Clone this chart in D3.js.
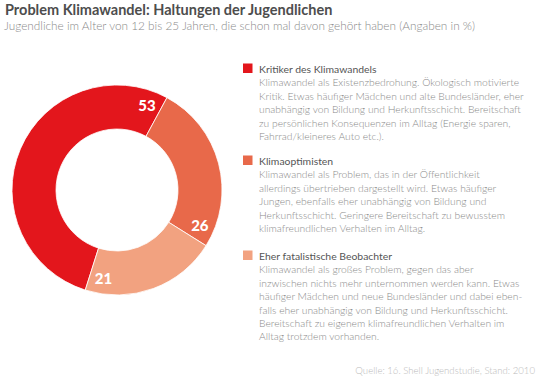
<!DOCTYPE html>
<html><head><meta charset="utf-8">
<script src="https://cdn.jsdelivr.net/npm/d3@7"></script>
<style>body{margin:0;background:#fff}svg{display:block}</style>
</head><body>
<script>
const categories = ["Kritiker des Klimawandels", "Klimaoptimisten", "Eher fatalistische Beobachter"];
const values = [53, 26, 21];
const colors = ["#e3161c", "#e8694a", "#f2a280"];
const descriptions = [
  ["Klimawandel als Existenzbedrohung. Ökologisch motivierte",
   "Kritik. Etwas häufiger Mädchen und alte Bundesländer, eher",
   "unabhängig von Bildung und Herkunftsschicht. Bereitschaft",
   "zu persönlichen Konsequenzen im Alltag (Energie sparen,",
   "Fahrrad/kleineres Auto etc.)."],
  ["Klimawandel als Problem, das in der Öffentlichkeit",
   "allerdings übertrieben dargestellt wird. Etwas häufiger",
   "Jungen, ebenfalls eher unabhängig von Bildung und",
   "Herkunftsschicht. Geringere Bereitschaft zu bewusstem",
   "klimafreundlichen Verhalten im Alltag."],
  ["Klimawandel als großes Problem, gegen das aber",
   "inzwischen nichts mehr unternommen werden kann. Etwas",
   "häufiger Mädchen und neue Bundesländer und dabei eben-",
   "falls eher unabhängig von Bildung und Herkunftsschicht.",
   "Bereitschaft zu eigenem klimafreundlichen Verhalten im",
   "Alltag trotzdem vorhanden."]
];
const title = "Problem Klimawandel: Haltungen der Jugendlichen";
const subtitle = "Jugendliche im Alter von 12 bis 25 Jahren, die schon mal davon gehört haben (Angaben in %)";
const source = "Quelle: 16. Shell Jugendstudie, Stand: 2010";

const W = 540, H = 379;
const font = "Lato, 'Open Sans', sans-serif";
const svg = d3.select("body").append("svg").attr("width", W).attr("height", H);

svg.append("text").attr("x", 5).attr("y", 15).text(title)
  .attr("font-family", font).attr("font-weight", 700).attr("font-size", 14.5).attr("fill", "#4d4d4d");
svg.append("text").attr("x", 4).attr("y", 30).text(subtitle)
  .attr("font-family", font).attr("font-weight", 300).attr("font-size", 11.8).attr("fill", "#8a8a8a");

// donut
const cx = 117, cy = 190, rOut = 105, rIn = 61;
const start = 197.6 * Math.PI / 180;
const pie = d3.pie().sort(null).value(d => d).startAngle(start).endAngle(start + 2 * Math.PI);
const arcs = pie(values);
const arc = d3.arc().innerRadius(rIn).outerRadius(rOut);
const g = svg.append("g").attr("transform", `translate(${cx},${cy})`);
g.selectAll("path").data(arcs).join("path")
  .attr("d", arc).attr("fill", (d, i) => colors[i])
  .attr("stroke", "#fff").attr("stroke-width", 0.8);
const labelOffset = 9 * Math.PI / 180;
g.selectAll("text").data(arcs).join("text")
  .attr("x", d => Math.sin(d.endAngle - labelOffset) * 90)
  .attr("y", d => -Math.cos(d.endAngle - labelOffset) * 90)
  .attr("text-anchor", "middle").attr("dy", "0.36em")
  .attr("font-family", font).attr("font-weight", 900).attr("font-size", 15)
  .attr("fill", "#fff").text(d => d.data);

// legend
const tops = [71, 163, 258];
const lx = 243, tx = 259, lh = 13.4;
categories.forEach((c, i) => {
  const y0 = tops[i];
  svg.append("rect").attr("x", lx).attr("y", y0 - 7.5).attr("width", 9.5).attr("height", 9.5).attr("fill", colors[i]);
  svg.append("text").attr("x", tx).attr("y", y0 + 2).text(c)
    .attr("font-family", font).attr("font-size", 10.4).attr("fill", "#555");
  descriptions[i].forEach((line, j) => {
    svg.append("text").attr("x", tx).attr("y", y0 + 2 + lh * (j + 1)).text(line)
      .attr("font-family", font).attr("font-weight", 300).attr("font-size", 10.3).attr("fill", "#8a8a8a");
  });
});

svg.append("text").attr("x", 535).attr("y", 374).attr("text-anchor", "end").text(source)
  .attr("font-family", font).attr("font-weight", 300).attr("font-size", 9.6).attr("fill", "#bbbbbb");
</script>
</body></html>
